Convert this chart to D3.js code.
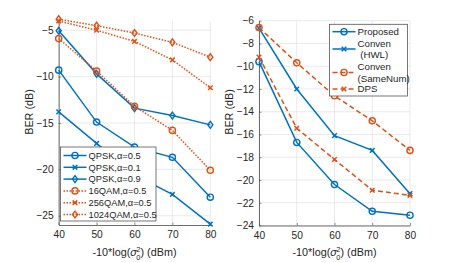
<!DOCTYPE html>
<html>
<head>
<meta charset="utf-8">
<script src="https://cdn.jsdelivr.net/npm/d3@7"></script>
<style>
  body { margin: 0; background: #fff; }
  svg text { font-family: "Liberation Sans", Arial, Helvetica, sans-serif; fill: #262626; }
</style>
</head>
<body>
<div id="container"></div>
<script>
/* DATA */
const snr = [40, 50, 60, 70, 80];

// left panel
const leftNames = ["QPSK,\u03b1=0.5", "QPSK,\u03b1=0.1", "QPSK,\u03b1=0.9",
                   "16QAM,\u03b1=0.5", "256QAM,\u03b1=0.5", "1024QAM,\u03b1=0.5"];
const qpsk05 = [-9.3, -14.9, -17.6, -18.7, -23.0];
const qpsk01 = [-13.8, -17.2, -20.6, -22.7, -25.9];
const qpsk09 = [-5.05, -9.7, -13.4, -14.2, -15.2];
const qam16 = [-5.9, -9.4, -13.2, -15.8, -20.1];
const qam256 = [-4.0, -5.0, -6.2, -8.2, -11.2];
const qam1024 = [-3.8, -4.5, -5.3, -6.3, -7.9];
const leftTicksY = [-25, -20, -15, -10, -5];

// right panel
const rightNames = [["Proposed"], ["Conven", " (HWL)"], ["Conven", "(SameNum)"], ["DPS"]];
const proposed = [-9.6, -16.7, -20.4, -22.75, -23.1];
const convHWL = [-6.65, -12.0, -16.1, -17.4, -21.2];
const convSame = [-6.6, -9.7, -12.6, -14.8, -17.4];
const dps = [-9.2, -15.45, -18.2, -20.9, -21.35];
const rightTicksY = [-24, -22, -20, -18, -16, -14, -12, -10, -8, -6];

const blue = "#0072BD", orange = "#D95319";

/* SVG */
const svg = d3.select("#container").append("svg")
  .attr("width", 453).attr("height", 263);

// marker drawing helper
function drawMarker(g, type, x, y, color) {
  if (type === "o") {
    g.append("circle").attr("cx", x).attr("cy", y).attr("r", 3.1)
      .attr("fill", "none").attr("stroke", color).attr("stroke-width", 1.4);
  } else if (type === "x") {
    const s = 2.3;
    g.append("path")
      .attr("d", `M${x - s},${y - s}L${x + s},${y + s}M${x - s},${y + s}L${x + s},${y - s}`)
      .attr("stroke", color).attr("stroke-width", 1.5);
  } else if (type === "d") {
    const s = 3.4;
    g.append("path")
      .attr("d", `M${x},${y - s}L${x + s * 0.75},${y}L${x},${y + s}L${x - s * 0.75},${y}Z`)
      .attr("fill", "none").attr("stroke", color).attr("stroke-width", 1.4);
  }
}

function drawPanel(p) {
  const x = d3.scaleLinear().domain([40, 80]).range(p.xRange);
  const y = d3.scaleLinear().domain(p.yDomain).range(p.yRange);
  const g = svg.append("g");

  // grid
  g.selectAll(".vgrid").data(snr).join("line")
    .attr("x1", d => x(d)).attr("x2", d => x(d))
    .attr("y1", p.yRange[0]).attr("y2", p.yRange[1])
    .attr("stroke", "#e4e4e4").attr("stroke-width", 0.8);
  g.selectAll(".hgrid").data(p.ticksY).join("line")
    .attr("x1", p.xRange[0]).attr("x2", p.xRange[1])
    .attr("y1", d => y(d)).attr("y2", d => y(d))
    .attr("stroke", "#e4e4e4").attr("stroke-width", 0.8);

  // axes
  const xAxis = g.append("g").attr("transform", `translate(0,${p.yRange[0]})`)
    .call(d3.axisBottom(x).tickValues(snr).tickSizeInner(-2.5).tickSizeOuter(0).tickPadding(6));
  const yAxis = g.append("g").attr("transform", `translate(${p.xRange[0]},0)`)
    .call(d3.axisLeft(y).tickValues(p.ticksY).tickSizeInner(-2.5).tickSizeOuter(0).tickPadding(5));
  [xAxis, yAxis].forEach(a => {
    a.select(".domain").attr("stroke", "#4a4a4a").attr("stroke-width", 0.8);
    a.selectAll(".tick line").attr("stroke", "#4a4a4a").attr("stroke-width", 0.6);
    a.selectAll("text").attr("font-size", 10.2).attr("fill", "#262626")
      .style("font-family", "'Liberation Sans', Arial, sans-serif");
  });

  // series
  const line = d3.line().x((d, i) => x(snr[i])).y(d => y(d));
  p.series.forEach(s => {
    g.append("path").datum(s.values).attr("d", line)
      .attr("fill", "none").attr("stroke", s.color).attr("stroke-width", 1.5)
      .attr("stroke-dasharray", s.dash || null);
    s.values.forEach((v, i) => drawMarker(g, s.marker, x(snr[i]), y(v), s.color));
  });

  // labels
  const cx = (p.xRange[0] + p.xRange[1]) / 2;
  const xl = g.append("text").attr("x", cx).attr("y", 256).attr("text-anchor", "middle")
    .attr("font-size", 10.8);
  xl.append("tspan").text("-10*log(");
  xl.append("tspan").text("\u03c3").attr("font-style", "italic");
  xl.append("tspan").text("0").attr("font-size", 7.5).attr("dy", 3.5).attr("dx", -0.5);
  xl.append("tspan").text("2").attr("font-size", 7.5).attr("dy", -8).attr("dx", -4.2);
  xl.append("tspan").text(") (dBm)").attr("dy", 4.5);

  g.append("text").attr("transform", `translate(${p.yLabelX},112) rotate(-90)`)
    .attr("text-anchor", "middle").attr("font-size", 10.8).text("BER (dB)");

  // legend
  const L = p.legend;
  const lg = g.append("g");
  lg.append("rect").attr("x", L.x).attr("y", L.y).attr("width", L.w).attr("height", L.h)
    .attr("fill", "#fff").attr("stroke", "#555").attr("stroke-width", 0.8);
  L.rows.forEach((r, i) => {
    const s = p.series[i];
    lg.append("line").attr("x1", L.x + 3).attr("x2", L.x + 26)
      .attr("y1", r.lineY).attr("y2", r.lineY)
      .attr("stroke", s.color).attr("stroke-width", 1.5)
      .attr("stroke-dasharray", s.dash || null);
    drawMarker(lg, s.marker, L.x + 14.5, r.lineY, s.color);
    r.text.forEach((t, j) => {
      lg.append("text").attr("x", L.x + 28).attr("y", r.textY[j])
        .attr("dy", "0.35em").attr("font-size", L.fs)
        .style("white-space", "pre").text(t);
    });
  });
}

/* LEFT PANEL */
const leftSeries = [
  {values: qpsk05, color: blue, marker: "o"},
  {values: qpsk01, color: blue, marker: "x"},
  {values: qpsk09, color: blue, marker: "d"},
  {values: qam16, color: orange, marker: "o", dash: "1.5,1.5"},
  {values: qam256, color: orange, marker: "x", dash: "1.5,1.5"},
  {values: qam1024, color: orange, marker: "d", dash: "1.5,1.5"}
];
drawPanel({
  xRange: [58.7, 210.3], yDomain: [-26, -4], yRange: [225, 21],
  ticksY: leftTicksY, series: leftSeries, yLabelX: 33,
  legend: {
    x: 60.5, y: 147, w: 95.5, h: 74, fs: 9.3,
    rows: leftNames.map((n, i) => ({lineY: 155.5 + i * 11.8, text: [n], textY: [155.5 + i * 11.8]}))
  }
});

/* RIGHT PANEL */
const rightSeries = [
  {values: proposed, color: blue, marker: "o"},
  {values: convHWL, color: blue, marker: "x"},
  {values: convSame, color: orange, marker: "o", dash: "5,3"},
  {values: dps, color: orange, marker: "x", dash: "5,3"}
];
drawPanel({
  xRange: [259, 410], yDomain: [-24, -6], yRange: [225.5, 20.7],
  ticksY: rightTicksY, series: rightSeries, yLabelX: 233,
  legend: {
    x: 329.5, y: 24.3, w: 78, h: 71.7, fs: 9.7,
    rows: [
      {lineY: 31.7, text: rightNames[0], textY: [31.7]},
      {lineY: 49, text: rightNames[1], textY: [43.3, 55]},
      {lineY: 72.5, text: rightNames[2], textY: [66.7, 78.3]},
      {lineY: 89, text: rightNames[3], textY: [89]}
    ]
  }
});
</script>
</body>
</html>
